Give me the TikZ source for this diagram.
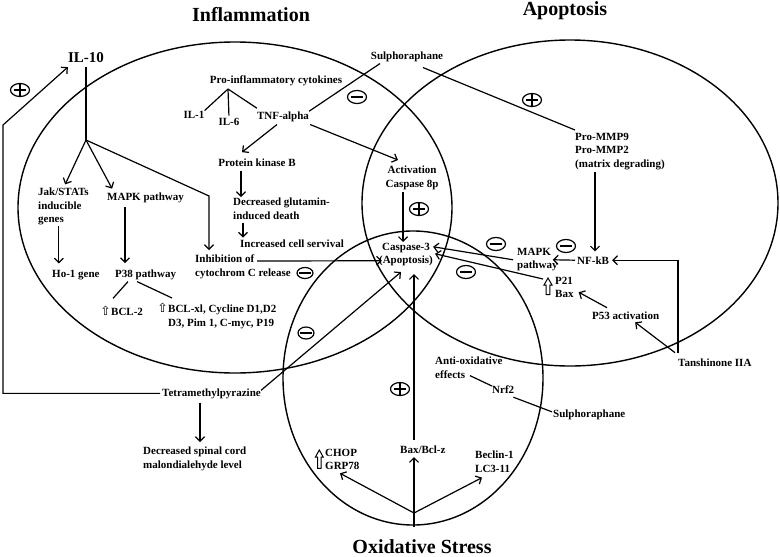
\documentclass[tikz,border=0pt]{standalone}
\usepackage{fontspec}
\setmainfont{Liberation Serif}
\newfontfamily\dejavu{DejaVu Sans}
\usetikzlibrary{arrows.meta,shapes.geometric}
\newcommand{\hup}{\makebox[0pt][r]{\fontsize{12.5}{13.5}\dejavu\mdseries ⇧\hspace{0.3pt}}}
\begin{document}
\begin{tikzpicture}[x=1pt,y=-1pt,
  txt/.style={font=\fontsize{11}{13.5}\selectfont\bfseries, inner sep=0pt},
  ttl/.style={font=\fontsize{20}{24}\selectfont\bfseries, inner sep=0pt},
  ln/.style={line width=1.2pt},
  arr/.style={line width=1.2pt, -{Straight Barb[length=4.5pt,width=9pt]}},
  ell/.style={line width=1.4pt},
  hol/.style={line width=1pt},
  sgn/.style={draw, ellipse, line width=1.2pt, minimum width=19pt, minimum height=13pt, inner sep=0pt},
  sgnminus/.style={sgn, path picture={\draw[line width=1.3pt] ([xshift=-6pt]path picture bounding box.center) -- ([xshift=6pt]path picture bounding box.center);}},
  sgnplus/.style={sgn, path picture={\draw[line width=1.3pt] ([xshift=-6pt]path picture bounding box.center) -- ([xshift=6pt]path picture bounding box.center) ([yshift=-7pt]path picture bounding box.center) -- ([yshift=7pt]path picture bounding box.center);}},
]
\useasboundingbox (0,0) rectangle (780,557);

% big ellipses
\draw[ell] (235,207.5) ellipse [x radius=217, y radius=165.5];
\draw[ell] (570,203) ellipse [x radius=208, y radius=163];
\draw[ell] (413,378) ellipse [x radius=130, y radius=147];

% titles
\node[ttl, anchor=base] (tInf) at (251,21) {Inflammation};
\node[ttl, anchor=base] (tApo) at (565,15) {Apoptosis};
\node[ttl, anchor=base] (tOx) at (422,553) {Oxidative Stress};

% text nodes
\node[txt, font=\fontsize{15}{18}\selectfont\bfseries, anchor=base] (il10) at (86,62) {IL-10};
\node[txt, anchor=base] (sulA) at (407,59) {Sulphoraphane};
\node[txt, anchor=base] (proinf) at (276,83) {Pro-inflammatory cytokines};
\node[txt, anchor=base] (il1) at (194,118) {IL-1};
\node[txt, anchor=base] (il6) at (229,125) {IL-6};
\node[txt, anchor=base] (tnf) at (283,119) {TNF-alpha};
\node[txt, anchor=base] (pkb) at (257,166) {Protein kinase B};
\node[txt, anchor=north west, align=left] (glut) at (233,198) {Decreased glutamin-\\induced death};
\node[txt, anchor=base west] (incr) at (240,247) {Increased cell servival};
\node[txt, anchor=north, align=center] (act) at (412,166) {Activation\\Caspase 8p};
\node[txt, anchor=north, align=center] (casp) at (406,243) {Caspase-3\\(Apoptosis)};
\node[txt, anchor=north west, align=left] (inhib) at (195,255) {Inhibition of\\cytochrom C release};
\node[txt, anchor=north west, align=left] (jak) at (38,188) {Jak/STATs\\inducible\\genes};
\node[txt, anchor=base west] (mapkA) at (107,200) {MAPK pathway};
\node[txt, anchor=base west] (ho1) at (52,277) {Ho-1 gene};
\node[txt, anchor=base west] (p38) at (115,277) {P38 pathway};
\node[txt, anchor=base west] (bcl2) at (111,315) {\hup BCL-2};
\node[txt, anchor=north west, align=left] (bclxl) at (168,303) {\hup BCL-xl, Cycline D1,D2\\D3, Pim 1, C-myc, P19};
\node[txt, anchor=base west] (tmp) at (162,396) {Tetramethylpyrazine};
\node[txt, anchor=north west, align=left] (spinal) at (143,447) {Decreased spinal cord\\malondialehyde level};
\node[txt, anchor=north west, align=left] (promm) at (575,133) {Pro-MMP9\\Pro-MMP2\\(matrix degrading)};
\node[txt, anchor=base west] (nfkb) at (577,264) {NF-kB};
\node[txt, anchor=north west, align=left] (mapkB) at (517,248) {MAPK\\pathway};
\node[txt, anchor=north west, align=left] (p21) at (555,277) {P21\\Bax};
\node[txt, anchor=base west] (p53) at (592,319) {P53 activation};
\node[txt, anchor=base west] (tansh) at (678,366) {Tanshinone IIA};
\node[txt, anchor=north west, align=left] (antiox) at (435,357) {Anti-oxidative\\effects};
\node[txt, anchor=base west] (nrf2) at (492,393) {Nrf2};
\node[txt, anchor=base west] (sulB) at (553,417) {Sulphoraphane};
\node[txt, anchor=base west] (baxbcl) at (400,453) {Bax/Bcl-z};
\node[txt, anchor=north west, align=left] (beclin) at (475,451) {Beclin-1\\LC3-11};
\node[txt, anchor=north west, align=left] (chop) at (325,449) {CHOP\\GRP78};

% hollow up arrows
\draw[hol] (548,278) -- (552,285) -- (549.8,285) -- (549.8,294.5) -- (546.2,294.5) -- (546.2,285) -- (544,285) -- cycle;
\draw[hol] (319.3,450) -- (323.2,457) -- (321,457) -- (321,468.3) -- (317.6,468.3) -- (317.6,457) -- (315.4,457) -- cycle;

% signs
\node[sgnminus] (m1) at (357,97) {};
\node[sgnplus] (p1) at (20,90) {};
\node[sgnplus] (p2) at (532,100) {};
\node[sgnplus] (p3) at (419,209) {};
\node[sgnminus, minimum width=16pt, minimum height=11pt] (m2) at (305,273) {};
\node[sgnminus, minimum width=16pt, minimum height=12pt] (m3) at (306,333) {};
\node[sgnminus] (m4) at (496,244) {};
\node[sgnminus] (m5) at (566,246) {};
\node[sgnminus] (m6) at (466,272) {};
\node[sgnplus] (p4) at (400,389) {};

% junctions
\coordinate (j1) at (86,140);
\coordinate (k1) at (209,196);
\coordinate (j2) at (228,89);
\coordinate (c2) at (3,125);
\coordinate (j0) at (414,527);
\coordinate (j3) at (414,513);

% IL-10 tree
\draw[ln, shorten <=5pt] (il10.south) -- (j1);
\draw[arr, shorten >=4pt] (j1) -- (jak.north);
\draw[arr, shorten >=4pt] (j1) -- ([xshift=7pt]mapkA.north west);
\draw[arr, shorten >=5pt] (j1) -- (k1) -- (k1 |- inhib.north);
\draw[arr, shorten <=1pt, shorten >=6pt] ([xshift=-4.6pt]jak.south) -- ([xshift=-4.6pt]jak.south |- ho1.north);
\draw[arr, shorten <=4.5pt, shorten >=6pt] ([xshift=18pt]mapkA.south west) -- ([xshift=18pt]mapkA.south west |- p38.north);
\draw[ln] ([xshift=13pt,yshift=-2pt]p38.south west) -- ([xshift=2pt,yshift=7pt]bcl2.north west);
\draw[ln] ([xshift=22pt,yshift=-2pt]p38.south west) -- ([xshift=4pt,yshift=5pt]bclxl.north west);

% cytokines
\draw[ln] (j2) -- (il1.north east);
\draw[ln, shorten >=2pt] (j2) -- (il6.north);
\draw[ln] (j2) -- ([yshift=3pt]tnf.north west);
\draw[ln] ([xshift=-27pt,yshift=-2pt]sulA.south) -- (tnf.north east);
\draw[arr] ([xshift=-6pt,yshift=-3pt]tnf.south) -- ([xshift=-15pt,yshift=6pt]pkb.north);
\draw[arr] ([xshift=1pt,yshift=-3pt]tnf.south east) -- ([xshift=-14pt,yshift=6pt]act.north);
\draw[arr] ([xshift=-16pt,yshift=-5pt]pkb.south) -- ([xshift=8pt,yshift=1pt]glut.north west);
\draw[arr] ([xshift=10pt,yshift=-3pt]glut.south west) -- ([xshift=3pt,yshift=1.5pt]incr.north west);
\draw[arr] ([xshift=-9pt,yshift=-2pt]act.south) -- ([xshift=-3pt,yshift=1pt]casp.north);
\draw[arr] ([xshift=62pt,yshift=-6pt]inhib.north west) -- ([xshift=3pt,yshift=-6pt]casp.west);

% apoptosis side
\draw[ln] ([xshift=16pt,yshift=-6pt]sulA.south) -- ([yshift=3pt]promm.north west);
\draw[arr] ([xshift=20pt,yshift=-2pt]promm.south west) -- ([xshift=18pt,yshift=4.7pt]nfkb.north west);
\draw[arr] ([xshift=-2pt]nfkb.west) -- ([xshift=-5pt]mapkB.east);
\draw[arr] ([xshift=-4pt]mapkB.west) -- ([yshift=8pt]casp.east);
\draw[arr] ([xshift=-12pt,yshift=-2pt]p21.north west) -- ([xshift=2pt,yshift=1pt]casp.east);
\draw[arr] ([xshift=15pt,yshift=3.5pt]p53.north west) -- ([xshift=5pt,yshift=-4.6pt]p21.east);
\draw[arr] ([xshift=-3pt,yshift=5.5pt]tansh.north west) -- ([xshift=9.5pt,yshift=-3pt]p53.south);
\draw[arr] ([yshift=5.5pt]tansh.north west) -- (tansh.north west |- nfkb.east) -- ([xshift=3pt]nfkb.east);

% oxidative stress side
\draw[ln] ([xshift=35pt,yshift=3pt]antiox.south west) -- ([yshift=-1pt]nrf2.north west);
\draw[ln] ([xshift=-1pt,yshift=-4pt]nrf2.south east) -- ([xshift=-1pt,yshift=2.5pt]sulB.west);
\draw[arr] ([xshift=14pt,yshift=5.5pt]baxbcl.north west) -- ([xshift=8pt,yshift=-7.5pt]casp.south);
\draw[ln] (j0) -- (j3);
\draw[arr] (j3) -- ([xshift=14pt,yshift=-4pt]baxbcl.base west);
\draw[arr] (j3) -- ([xshift=7pt,yshift=-5pt]beclin.south west);
\draw[arr] (j3) -- ([xshift=15pt,yshift=-3pt]chop.south west);

% tetramethylpyrazine
\draw[arr] ([yshift=3pt]tmp.east) -- ([xshift=-5pt,yshift=-5.5pt]casp.south);
\draw[arr] ([xshift=-2pt]tmp.west) -- (c2 |- tmp.west) -- (c2) -- ([yshift=-10pt]il10.west);
\draw[arr] ([xshift=38pt,yshift=-4pt]tmp.south west) -- ([xshift=57pt,yshift=5pt]spinal.north west);
\end{tikzpicture}
\end{document}
